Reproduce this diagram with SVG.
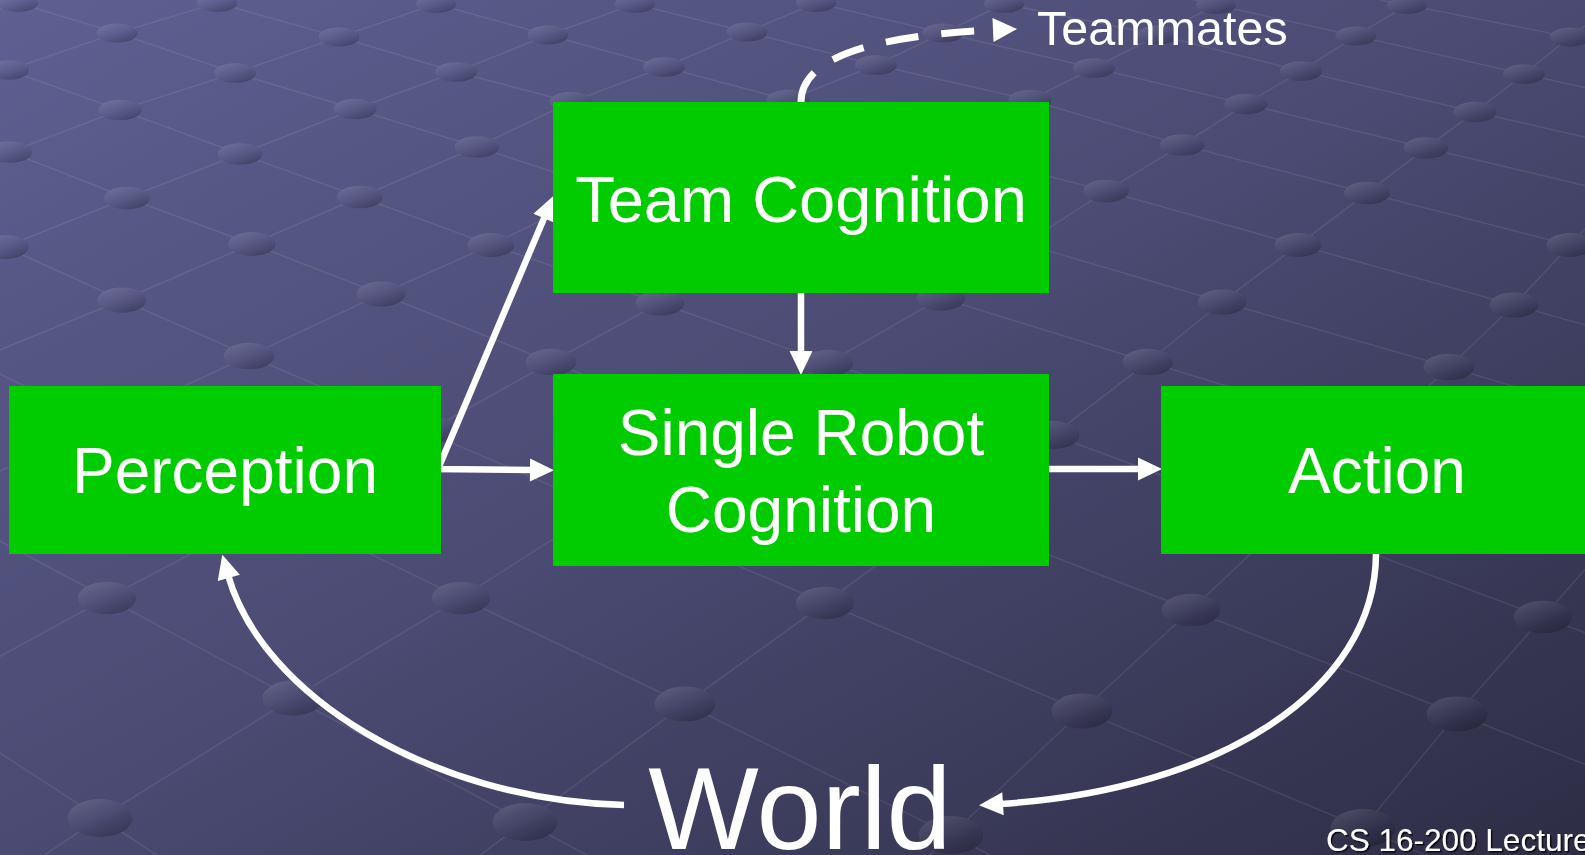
<svg xmlns="http://www.w3.org/2000/svg" width="1585" height="855" viewBox="0 0 1585 855">
  <defs>
    <linearGradient id="bg" gradientUnits="userSpaceOnUse" x1="0" y1="0" x2="714.5" y2="1324.6">
      <stop offset="0" stop-color="#5f5f92"/>
      <stop offset="0.5" stop-color="#4a4a72"/>
      <stop offset="1" stop-color="#2d2d45"/>
    </linearGradient>
    <linearGradient id="dotShade" x1="0.1" y1="0" x2="0.8" y2="1">
      <stop offset="0" stop-color="#ffffff" stop-opacity="0.14"/>
      <stop offset="0.35" stop-color="#ffffff" stop-opacity="0.05"/>
      <stop offset="0.65" stop-color="#000000" stop-opacity="0.06"/>
      <stop offset="1" stop-color="#000000" stop-opacity="0.26"/>
    </linearGradient>
    <!-- solid arrowhead: path end sits 3px inside the head base -->
    <marker id="head" markerUnits="userSpaceOnUse" markerWidth="26" markerHeight="26" viewBox="0 -13 26 26" refX="3" refY="0" orient="auto-start-reverse" overflow="visible">
      <path d="M0,-11.5 L24,0 L0,11.5 Z" fill="#ffffff"/>
    </marker>
    <!-- head for the dashed link: path ends at the head base -->
    <marker id="headDash" markerUnits="userSpaceOnUse" markerWidth="26" markerHeight="26" viewBox="0 -13 26 26" refX="0" refY="0" orient="auto" overflow="visible">
      <path d="M0,-12 L24,0 L0,12 Z" fill="#ffffff"/>
    </marker>
    <filter id="shadow" x="-5%" y="-20%" width="110%" height="150%">
      <feDropShadow dx="1.5" dy="1.5" stdDeviation="0.6" flood-color="#000000" flood-opacity="0.8"/>
    </filter>
    <!-- disc positions on the receding lattice -->
    <g id="discShapes">
      <ellipse cx="18" cy="3" rx="20.1" ry="9"/>
      <ellipse cx="217" cy="3" rx="20.1" ry="9"/>
      <ellipse cx="436" cy="4" rx="20.1" ry="9"/>
      <ellipse cx="635" cy="4" rx="20.1" ry="9"/>
      <ellipse cx="816" cy="3" rx="20.1" ry="9"/>
      <ellipse cx="1004" cy="4" rx="20.1" ry="9"/>
      <ellipse cx="1216" cy="5" rx="20.1" ry="9"/>
      <ellipse cx="1407" cy="5" rx="20.1" ry="9"/>

      <ellipse cx="117" cy="33" rx="20.5" ry="9.4"/>
      <ellipse cx="339" cy="37" rx="20.5" ry="9.4"/>
      <ellipse cx="548" cy="35" rx="20.5" ry="9.4"/>
      <ellipse cx="747" cy="32" rx="20.5" ry="9.4"/>
      <ellipse cx="943" cy="33" rx="20.5" ry="9.4"/>
      <ellipse cx="1158" cy="35" rx="20.5" ry="9.4"/>
      <ellipse cx="1356" cy="36" rx="20.5" ry="9.4"/>
      <ellipse cx="1570" cy="37" rx="20.5" ry="9.4"/>

      <ellipse cx="8" cy="70" rx="21" ry="9.8"/>
      <ellipse cx="235" cy="73" rx="21" ry="9.8"/>
      <ellipse cx="456" cy="72" rx="21" ry="9.8"/>
      <ellipse cx="664" cy="67" rx="21" ry="9.8"/>
      <ellipse cx="876" cy="65" rx="21" ry="9.8"/>
      <ellipse cx="1094" cy="68" rx="21" ry="9.8"/>
      <ellipse cx="1301" cy="71" rx="21" ry="9.8"/>
      <ellipse cx="1524" cy="74" rx="21" ry="9.8"/>

      <ellipse cx="120" cy="110" rx="21.6" ry="10.3"/>
      <ellipse cx="355" cy="109" rx="21.6" ry="10.3"/>
      <ellipse cx="571" cy="102" rx="21.6" ry="10.3"/>
      <ellipse cx="788" cy="100" rx="21.6" ry="10.3"/>
      <ellipse cx="1030" cy="100" rx="21.6" ry="10.3"/>
      <ellipse cx="1246" cy="104" rx="21.6" ry="10.3"/>
      <ellipse cx="1475" cy="112" rx="21.6" ry="10.3"/>

      <ellipse cx="10" cy="152" rx="22.2" ry="10.8"/>
      <ellipse cx="240" cy="154" rx="22.2" ry="10.8"/>
      <ellipse cx="477" cy="147" rx="22.2" ry="10.8"/>
      <ellipse cx="1182" cy="145" rx="22.2" ry="10.8"/>
      <ellipse cx="1426" cy="148" rx="22.2" ry="10.8"/>

      <ellipse cx="127" cy="198" rx="22.9" ry="11.3"/>
      <ellipse cx="360" cy="197" rx="22.9" ry="11.3"/>
      <ellipse cx="1106" cy="191" rx="22.9" ry="11.3"/>
      <ellipse cx="1367" cy="193" rx="22.9" ry="11.3"/>

      <ellipse cx="5" cy="247" rx="23.6" ry="11.9"/>
      <ellipse cx="252" cy="244" rx="23.6" ry="11.9"/>
      <ellipse cx="491" cy="245" rx="23.6" ry="11.9"/>
      <ellipse cx="1298" cy="245" rx="23.6" ry="11.9"/>
      <ellipse cx="1570" cy="245" rx="23.6" ry="11.9"/>

      <ellipse cx="122" cy="300" rx="24.4" ry="12.6"/>
      <ellipse cx="381" cy="294" rx="24.4" ry="12.6"/>
      <ellipse cx="660" cy="303" rx="24.4" ry="12.6"/>
      <ellipse cx="941" cy="298" rx="24.4" ry="12.6"/>
      <ellipse cx="1222" cy="302" rx="24.4" ry="12.6"/>
      <ellipse cx="1514" cy="305" rx="24.4" ry="12.6"/>

      <ellipse cx="-27" cy="361" rx="25.4" ry="13.3"/>
      <ellipse cx="249" cy="356" rx="25.4" ry="13.3"/>
      <ellipse cx="551" cy="362" rx="25.4" ry="13.3"/>
      <ellipse cx="828" cy="363" rx="25.4" ry="13.3"/>
      <ellipse cx="1148" cy="362" rx="25.4" ry="13.3"/>
      <ellipse cx="1449" cy="367" rx="25.4" ry="13.3"/>

      <ellipse cx="430" cy="430" rx="26.5" ry="14.2"/>
      <ellipse cx="1053" cy="435" rx="26.5" ry="14.2"/>

      <ellipse cx="107" cy="598" rx="29.1" ry="16.3"/>
      <ellipse cx="461" cy="598" rx="29.1" ry="16.3"/>
      <ellipse cx="825" cy="603" rx="29.1" ry="16.3"/>
      <ellipse cx="1191" cy="610" rx="29.1" ry="16.3"/>
      <ellipse cx="1543" cy="617" rx="29.1" ry="16.3"/>

      <ellipse cx="293" cy="698" rx="30.5" ry="17.5"/>
      <ellipse cx="685" cy="704" rx="30.5" ry="17.5"/>
      <ellipse cx="1082" cy="711" rx="30.5" ry="17.5"/>
      <ellipse cx="1457" cy="714" rx="30.5" ry="17.5"/>

      <ellipse cx="100" cy="818" rx="32.4" ry="19"/>
      <ellipse cx="525" cy="822" rx="32.4" ry="19"/>
      <ellipse cx="951" cy="835" rx="32.4" ry="19"/>
      <ellipse cx="1363" cy="828" rx="32.4" ry="19"/>
    </g>
  </defs>
  <style>
    .grid { fill: none; stroke: #ffffff; stroke-opacity: 0.08; stroke-width: 1.6; stroke-linejoin: round; }
    .box { fill: #00cc00; }
    .lbl { font-family: "Liberation Sans", Arial, sans-serif; fill: #ffffff; font-size: 64px; text-anchor: middle; }
    .title { font-size: 65px; }
    .big { font-size: 117px; }
    .note { font-size: 48.5px; text-anchor: start; }
    .foot { font-size: 31.5px; text-anchor: start; filter: url(#shadow); }
    .conn { fill: none; stroke: #ffffff; stroke-width: 6.5; stroke-linejoin: miter; }
    .dash { stroke-width: 7; stroke-dasharray: 33 23; }
  </style>

  <!-- backdrop: perspective lattice of rods and discs -->
  <g id="backdrop">
    <rect x="0" y="0" width="1585" height="855" fill="url(#bg)"/>
    <g id="rods">
      <polyline class="grid" points="60,-10 18,3 -100,41"/>
      <polyline class="grid" points="240,-4 217,3 117,33 8,70 -60,92"/>
      <polyline class="grid" points="460,-4 436,4 339,37 235,73 120,110 10,152 -60,176"/>
      <polyline class="grid" points="660,-6 635,4 548,35 456,72 355,109 240,154 127,198 5,247 -60,272"/>
      <polyline class="grid" points="830,-3 816,3 747,32 664,67 571,102 477,147 360,197 252,244 122,300 -27,361 -60,376"/>
      <polyline class="grid" points="1020,-3 1004,4 943,33 876,65 788,100 491,245 381,294 249,356 102,424 -60,499"/>
      <polyline class="grid" points="1230,-3 1216,5 1158,35 1094,68 1030,100 660,303 551,362 430,430 276,509 107,598 -60,689"/>
      <polyline class="grid" points="1420,-3 1407,5 1356,36 1301,71 1246,104 1182,145 1106,191 941,298 828,363 461,598 293,698 100,818 40,858"/>
      <polyline class="grid" points="1626,-5 1570,37 1524,74 1475,112 1426,148 1367,193 1298,245 1222,302 1148,362 1053,435 825,603 685,704 525,822 460,870"/>
      <polyline class="grid" points="1650,159 1570,245 1514,305 1449,367 1191,610 1082,711 951,835 914,870"/>
      <polyline class="grid" points="1650,496 1543,617 1457,714 1363,828 1327,870"/>

      <polyline class="grid" points="1380,0 1407,5 1570,37 1650,53"/>
      <polyline class="grid" points="1190,-1 1216,5 1356,36 1524,74 1650,102"/>
      <polyline class="grid" points="980,-2 1004,4 1158,35 1301,71 1475,112 1650,152"/>
      <polyline class="grid" points="790,-3 816,3 943,33 1094,68 1246,104 1426,148 1650,201"/>
      <polyline class="grid" points="610,-3 635,4 747,32 876,65 1030,100 1182,145 1367,193 1570,245 1650,266"/>
      <polyline class="grid" points="410,-3 436,4 548,35 664,67 788,100 946,150 1106,191 1298,245 1514,305 1650,343"/>
      <polyline class="grid" points="200,-2 217,3 339,37 456,72 571,102 1022,243 1222,302 1449,367 1650,427"/>
      <polyline class="grid" points="-20,-9 18,3 117,33 235,73 355,109 477,147 941,298 1148,362 1374,431 1650,520"/>
      <polyline class="grid" points="-40,55 8,70 120,110 240,154 360,197 491,245 660,303 828,363 1053,435 1282,520 1543,617 1650,657"/>
      <polyline class="grid" points="-40,136 10,152 127,198 252,244 381,294 551,362 1191,610 1457,714 1650,790"/>
      <polyline class="grid" points="-40,228 5,247 122,300 249,356 825,603 1082,711 1363,828 1450,866"/>
      <polyline class="grid" points="-60,345 -27,361 461,598 685,704 951,835 1000,860"/>
      <polyline class="grid" points="-60,509 107,598 293,698 525,822 600,862"/>
      <polyline class="grid" points="-60,714 100,818 160,857"/>
    </g>
    <g id="discs">
      <use href="#discShapes" fill="url(#bg)"/>
      <use href="#discShapes" fill="url(#dotShade)"/>
    </g>
  </g>

  <!-- links between the stages -->
  <g id="connectors">
    <path class="conn" d="M545.2,215.4 L438,469 L533,470" marker-start="url(#head)" marker-end="url(#head)"/>
    <path class="conn" d="M801,293 L801,354" marker-end="url(#head)"/>
    <path class="conn" d="M1049,469 L1141,469" marker-end="url(#head)"/>
    <path class="conn" d="M1376,553 C1376,690 1220,790 1000,804" marker-end="url(#head)"/>
    <path class="conn" d="M624,805 C430,800 262,695 228,575" marker-end="url(#head)"/>
    <path class="conn dash" d="M801,102 C801,62 860,36 993,30" marker-end="url(#headDash)"/>
  </g>

  <g id="team-cognition">
    <rect class="box" x="553" y="102" width="496" height="191"/>
    <text class="lbl title" x="801" y="222">Team Cognition</text>
  </g>

  <g id="single-robot-cognition">
    <rect class="box" x="553" y="374" width="496" height="192"/>
    <text class="lbl" x="801" y="455">Single Robot</text>
    <text class="lbl" x="801" y="532">Cognition</text>
  </g>

  <g id="perception">
    <rect class="box" x="9" y="386" width="432" height="168"/>
    <text class="lbl" x="225" y="493">Perception</text>
  </g>

  <g id="action">
    <rect class="box" x="1161" y="386" width="432" height="168"/>
    <text class="lbl" x="1377" y="493">Action</text>
  </g>

  <g id="world">
    <text class="lbl big" x="800" y="849">World</text>
  </g>

  <g id="teammates">
    <text class="lbl note" x="1037" y="45">Teammates</text>
  </g>

  <g id="footer">
    <text class="lbl foot" x="1326" y="851">CS 16-200 Lecture</text>
  </g>
</svg>
